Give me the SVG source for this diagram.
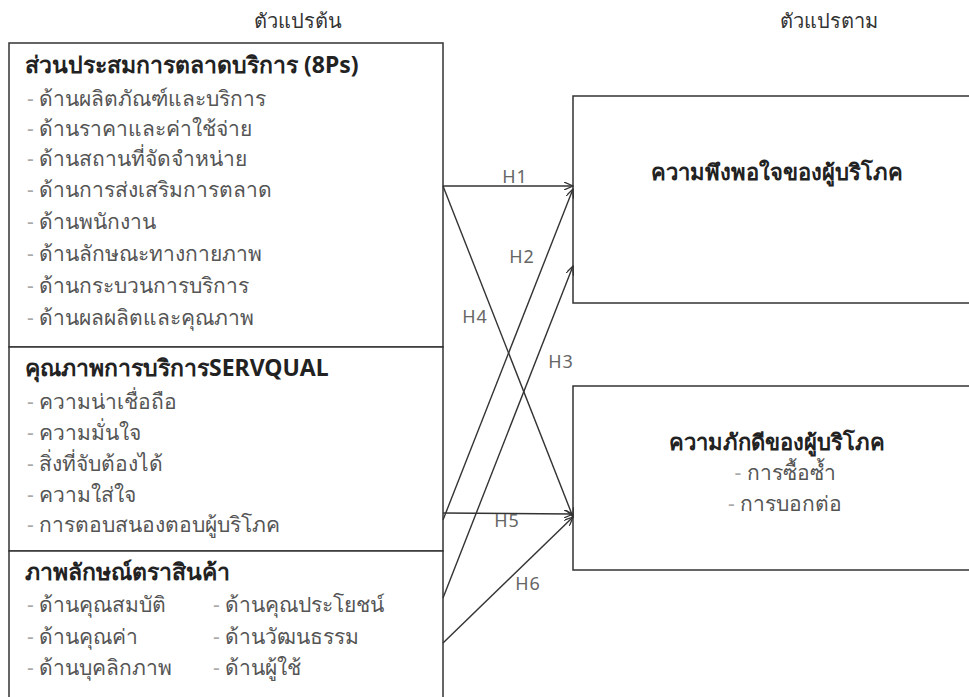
<svg xmlns="http://www.w3.org/2000/svg" width="969" height="697" viewBox="0 0 969 697">
<style>
.box{fill:#fff;stroke:#333;stroke-width:1.5}
.hd{font-family:"Noto Sans","DejaVu Sans",sans-serif;font-size:20px;fill:#333}
.t{font-family:"Noto Sans","DejaVu Sans",sans-serif;font-size:23px;font-weight:bold;fill:#222}
.tr{font-family:"Noto Sans","DejaVu Sans",sans-serif;font-size:22px;font-weight:bold;fill:#222}
.i{font-family:"Noto Sans","DejaVu Sans",sans-serif;font-size:21px;fill:#555}
.d{fill:#aaa}
.c{stroke:#333;stroke-width:1.4;fill:none;marker-end:url(#ah)}
.lb{font-family:"Noto Sans","DejaVu Sans",sans-serif;font-size:18px;letter-spacing:1px;fill:#666;text-anchor:middle}
</style>
<defs>
<marker id="ah" markerWidth="10" markerHeight="8" refX="9" refY="4" orient="auto" markerUnits="userSpaceOnUse">
<path d="M0,0 L9,4 L0,8" fill="none" stroke="#333" stroke-width="1.3"/>
</marker>
</defs>
<rect width="969" height="697" fill="#fff"/>
<text class="hd" x="298" y="28" text-anchor="middle">ตัวแปรต้น</text>
<text class="hd" x="829" y="28" text-anchor="middle">ตัวแปรตาม</text>

<g id="n-8ps">
<rect class="box" x="9" y="43" width="434" height="304"/>
<text class="t" x="25" y="73">ส่วนประสมการตลาดบริการ (8Ps)</text>
<text class="i" x="27" y="106"><tspan class="d">- </tspan>ด้านผลิตภัณฑ์และบริการ</text>
<text class="i" x="27" y="136"><tspan class="d">- </tspan>ด้านราคาและค่าใช้จ่าย</text>
<text class="i" x="27" y="166"><tspan class="d">- </tspan>ด้านสถานที่จัดจำหน่าย</text>
<text class="i" x="27" y="197"><tspan class="d">- </tspan>ด้านการส่งเสริมการตลาด</text>
<text class="i" x="27" y="229"><tspan class="d">- </tspan>ด้านพนักงาน</text>
<text class="i" x="27" y="261"><tspan class="d">- </tspan>ด้านลักษณะทางกายภาพ</text>
<text class="i" x="27" y="293"><tspan class="d">- </tspan>ด้านกระบวนการบริการ</text>
<text class="i" x="27" y="325"><tspan class="d">- </tspan>ด้านผลผลิตและคุณภาพ</text>
</g>

<g id="n-servqual">
<rect class="box" x="9" y="347" width="434" height="204"/>
<text class="t" x="25" y="376">คุณภาพการบริการSERVQUAL</text>
<text class="i" x="27" y="409"><tspan class="d">- </tspan>ความน่าเชื่อถือ</text>
<text class="i" x="27" y="440"><tspan class="d">- </tspan>ความมั่นใจ</text>
<text class="i" x="27" y="471"><tspan class="d">- </tspan>สิ่งที่จับต้องได้</text>
<text class="i" x="27" y="502"><tspan class="d">- </tspan>ความใส่ใจ</text>
<text class="i" x="27" y="532"><tspan class="d">- </tspan>การตอบสนองตอบผู้บริโภค</text>
</g>

<g id="n-brand">
<rect class="box" x="9" y="551" width="434" height="160"/>
<text class="t" x="25" y="580">ภาพลักษณ์ตราสินค้า</text>
<text class="i" x="27" y="612"><tspan class="d">- </tspan>ด้านคุณสมบัติ</text>
<text class="i" x="27" y="644"><tspan class="d">- </tspan>ด้านคุณค่า</text>
<text class="i" x="27" y="675"><tspan class="d">- </tspan>ด้านบุคลิกภาพ</text>
<text class="i" x="213" y="612"><tspan class="d">- </tspan>ด้านคุณประโยชน์</text>
<text class="i" x="213" y="644"><tspan class="d">- </tspan>ด้านวัฒนธรรม</text>
<text class="i" x="213" y="675"><tspan class="d">- </tspan>ด้านผู้ใช้</text>
</g>

<g id="n-satisfaction">
<rect class="box" x="573" y="96" width="410" height="207"/>
<text class="tr" x="777" y="180" text-anchor="middle">ความพึงพอใจของผู้บริโภค</text>
</g>

<g id="n-loyalty">
<rect class="box" x="573" y="386" width="410" height="184"/>
<text class="tr" x="777" y="450" text-anchor="middle">ความภักดีของผู้บริโภค</text>
<text class="i" x="785" y="480" text-anchor="middle"><tspan class="d">- </tspan>การซื้อซ้ำ</text>
<text class="i" x="785" y="511" text-anchor="middle"><tspan class="d">- </tspan>การบอกต่อ</text>
</g>

<g id="connectors">
<line class="c" x1="443" y1="186" x2="573" y2="186"/>
<line class="c" x1="443" y1="520" x2="573" y2="189"/>
<line class="c" x1="443" y1="598" x2="573" y2="266"/>
<line class="c" x1="443" y1="186" x2="573" y2="517"/>
<line class="c" x1="443" y1="513" x2="573" y2="514"/>
<line class="c" x1="443" y1="643" x2="573" y2="517"/>
<text class="lb" x="515" y="183">H1</text>
<text class="lb" x="522" y="263">H2</text>
<text class="lb" x="561" y="368">H3</text>
<text class="lb" x="475" y="323">H4</text>
<text class="lb" x="507" y="527">H5</text>
<text class="lb" x="528" y="590">H6</text>
</g>
</svg>
